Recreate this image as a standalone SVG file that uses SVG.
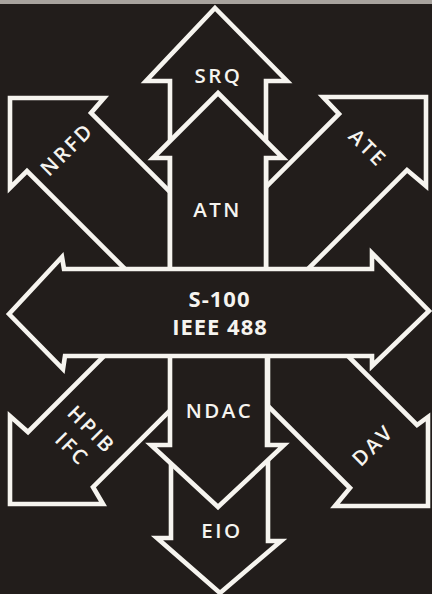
<svg xmlns="http://www.w3.org/2000/svg" width="432" height="594" viewBox="0 0 432 594">
<style>
.a{fill:#221d1b;stroke:#f6f4ef;stroke-width:4.6;stroke-linejoin:miter;stroke-miterlimit:10}
.t{fill:#f6f4ef;font-family:"Open Sans","Liberation Sans",sans-serif;font-weight:600;font-size:20.5px;letter-spacing:2.5px;text-anchor:middle}
.b{fill:#f6f4ef;font-family:"Open Sans","Liberation Sans",sans-serif;font-weight:700;font-size:22px;letter-spacing:1px;text-anchor:middle}
</style>
<rect x="0" y="0" width="432" height="594" fill="#221d1b"/>
<rect x="0" y="0" width="432" height="4" fill="#a8a39e"/>
<g id="NRFD">
<polygon class="a" points="10,98 104,98 91,113 278,300 156,300 27,171 10,188"/>
<text class="t" transform="translate(66,150) rotate(-45)" x="1.25" y="7.3">NRFD</text>
</g>
<g id="ATE">
<polygon class="a" points="426,97 426,186 407,170 277,300 153,300 339,114 323,97"/>
<text class="t" transform="translate(367,147) rotate(45)" x="1.25" y="7.3">ATE</text>
</g>
<g id="HPIB_IFC">
<polygon class="a" points="10,504 10,416 28,432 130,330 251,330 93,487 103,504"/>
<g transform="translate(81,438.5) rotate(45)">
<text class="t" x="1.25" y="-6.5">HPIB</text>
<text class="t" x="1.25" y="21">IFC</text>
</g>
</g>
<g id="DAV">
<polygon class="a" points="428,506 335,506 350,488 192,330 322,330 417,425 428,417"/>
<text class="t" transform="translate(372,446) rotate(-45)" x="1.25" y="7.3">DAV</text>
</g>
<g id="SRQ">
<polygon class="a" points="215,8 287,81 266,81 266,300 170,300 170,81 146,81"/>
<text class="t" x="218.5" y="82.5">SRQ</text>
</g>
<g id="ATN">
<polygon class="a" points="218,93 283,158 266,158 266,300 170,300 170,158 153,158"/>
<text class="t" x="217.5" y="216.5">ATN</text>
</g>
<g id="EIO">
<polygon class="a" points="171,330 268,330 268,541 281,541 220,593 157,538 171,538"/>
<text class="t" x="222" y="538">EIO</text>
</g>
<g id="NDAC">
<polygon class="a" points="170,330 267,330 267,445 284,445 218,507 151,445 170,445"/>
<text class="t" x="219.5" y="418">NDAC</text>
</g>
<g id="bus">
<polygon class="a" points="9,314 62,257 64,269 372,269 372,253 429,311 372,366 372,356 65,356 63,369"/>
<text class="b" x="219.5" y="307">S-100</text>
<text class="b" x="220" y="334.5">IEEE 488</text>
</g>
</svg>
